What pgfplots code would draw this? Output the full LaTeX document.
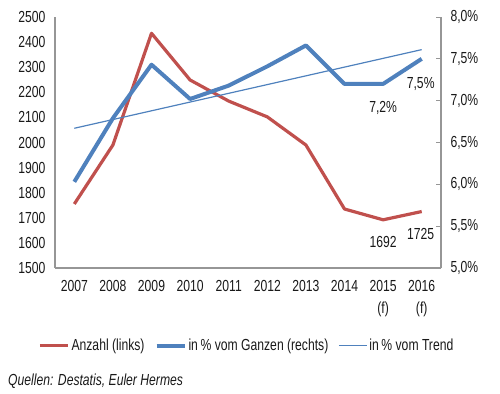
\documentclass[border=0pt]{standalone}
\usepackage{pgfplots}
\pgfplotsset{compat=1.18}
\usepackage{fontspec}
\setmainfont{Liberation Sans}[FakeStretch=0.76]
\definecolor{cred}{RGB}{192,80,77}
\definecolor{cblue}{RGB}{79,129,189}
\definecolor{axgray}{RGB}{150,150,150}
\definecolor{txt}{RGB}{25,25,25}
\newcommand{\tfont}{\fontsize{16bp}{22bp}\selectfont}
\begin{document}
\begin{tikzpicture}
\path[use as bounding box] (0bp,0bp) rectangle (500bp,394bp);
\pgfplotsset{
  common/.style={
    at={(55bp,126bp)}, anchor=south west, scale only axis,
    width=386bp, height=251bp, xmin=-0.5, xmax=9.5,
    axis line style={axgray, line width=1.3bp, -},
    tick style={axgray, line width=0.8bp},
    tick label style={font=\tfont, text=txt},
    /pgf/number format/assume math mode=true,
    /pgf/number format/1000 sep={},
    clip=false,
  }
}
\begin{axis}[common,
  ymin=1500, ymax=2500, ytick={1500,1600,...,2500},
  xtick={0,...,9},
  xticklabels={2007,2008,2009,2010,2011,2012,2013,2014,{2015\\(f)},{2016\\(f)}},
  x tick label style={align=center, yshift=-9bp},
  y tick label style={xshift=-6bp},
  axis x line*=bottom, axis y line*=left,
  major tick length=0pt,
  legend columns=3,
  legend style={at={(0.497,-0.31)}, anchor=center, draw=none, fill=none,
    font=\fontsize{16bp}{18bp}\selectfont, text=txt,
    /tikz/every even column/.append style={column sep=8bp},
    inner sep=0pt},
  legend image code/.code={\draw[#1] (0bp,0bp) -- (28bp,0bp);},
]
\addplot[cred, line width=3.2bp, line join=round] coordinates {
(0,1755) (1,1990) (2,2435) (3,2249) (4,2165) (5,2102) (6,1990) (7,1735) (8,1692) (9,1725)};
\addlegendentry{Anzahl (links)}
\addlegendimage{cblue, line width=4bp}
\addlegendentry{in\,\% vom Ganzen (rechts)}
\addlegendimage{cblue, line width=1bp}
\addlegendentry{in\,\% vom Trend}
\node[below, font=\tfont, text=txt, yshift=-13bp] at (axis cs:8,1692) {1692};
\node[below, font=\tfont, text=txt, yshift=-13bp, xshift=-1bp] at (axis cs:9,1725) {1725};
\end{axis}
\begin{axis}[common,
  ymin=5, ymax=8, ytick={5,5.5,...,8},
  yticklabels={{5,0\%},{5,5\%},{6,0\%},{6,5\%},{7,0\%},{7,5\%},{8,0\%}},
  y tick label style={xshift=6bp},
  axis y line*=right, axis x line=none,
  major tick length=5bp,
]
\addplot[cblue, line width=1.2bp] coordinates {(0,6.67) (9,7.61)};
\addplot[cblue, line width=4bp, line join=round] coordinates {
(0,6.03) (1,6.79) (2,7.43) (3,7.02) (4,7.18) (5,7.41) (6,7.66) (7,7.20) (8,7.20) (9,7.50)};
\node[below, font=\tfont, text=txt, yshift=-14bp] at (axis cs:8,7.2) {7,2\%};
\node[below, font=\tfont, text=txt, yshift=-15bp, xshift=-1bp] at (axis cs:9,7.5) {7,5\%};
\end{axis}
\node[anchor=west, inner sep=0pt, font=\fontsize{16bp}{18bp}\itshape, text=txt] at (8bp,13bp) {Quellen: Destatis, Euler Hermes};
\end{tikzpicture}
\end{document}
